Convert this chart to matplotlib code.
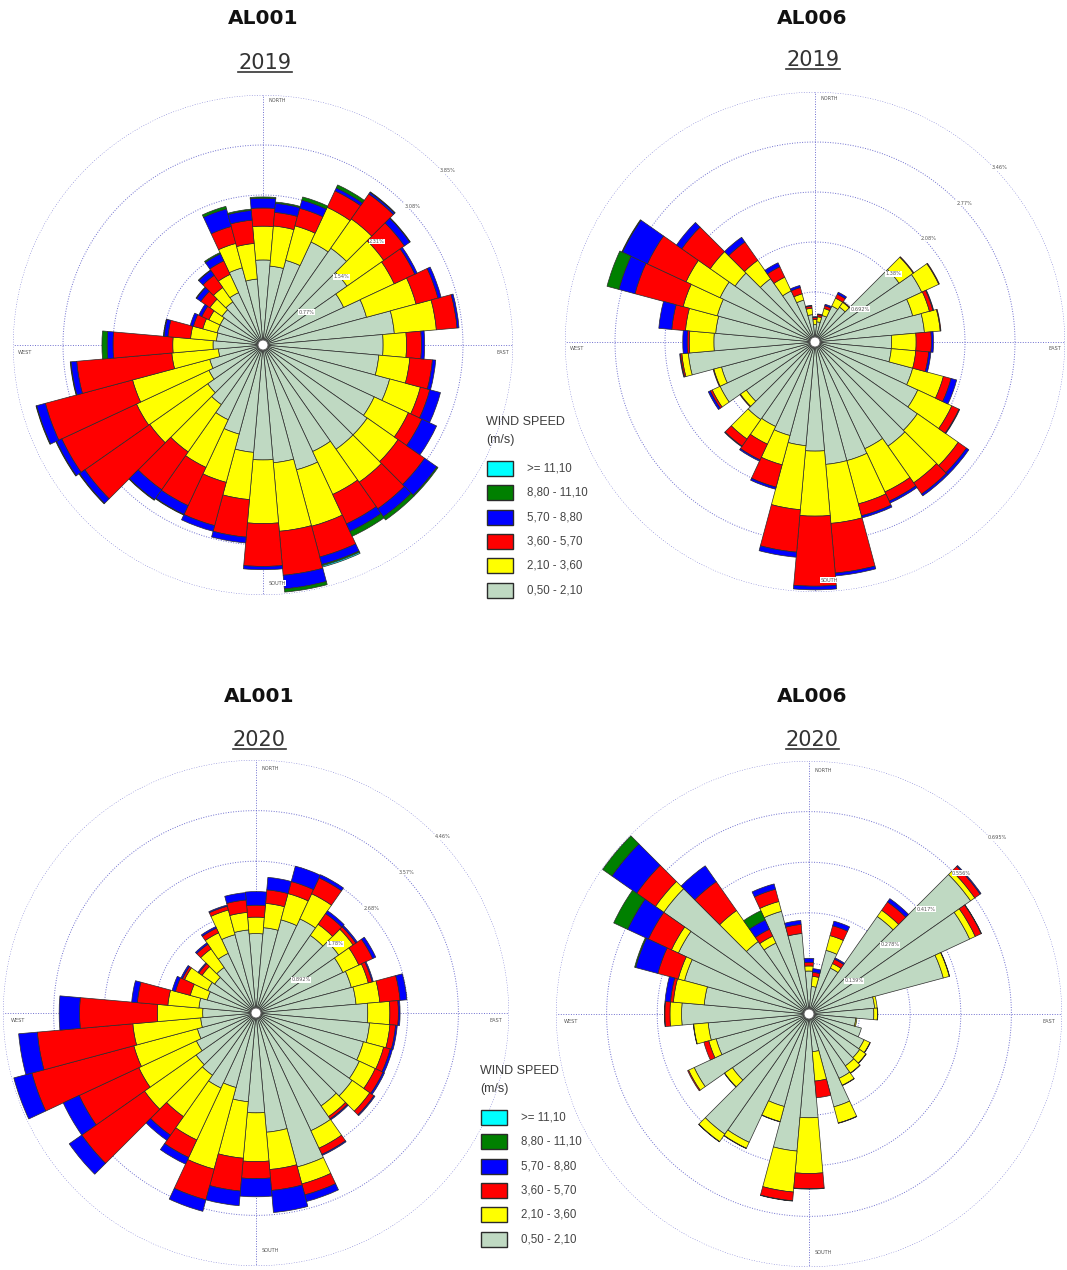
import numpy as np
import matplotlib
matplotlib.use('Agg')
import matplotlib.pyplot as plt
from matplotlib.patches import Circle, Rectangle
from matplotlib.lines import Line2D

W, H = 1067, 1270

directions = np.arange(0, 360, 10)
speed_classes = ['0,50 - 2,10', '2,10 - 3,60', '3,60 - 5,70', '5,70 - 8,80', '8,80 - 11,10', '>= 11,10']
class_colors = ['#bfd9c2', '#ffff00', '#ff0000', '#0000ff', '#008000', '#00ffff']

# AL001 2019 (% of time, per direction, per speed class)
al001_2019_c1 = [1.31, 1.22, 1.35, 1.75, 1.82, 1.58, 1.37, 1.65, 2.03, 1.85, 1.79, 2.02, 1.89, 1.96, 1.96, 1.81, 1.99, 1.82,
                 1.77, 1.66, 1.42, 1.27, 1.12, 1.04, 0.92, 0.85, 0.69, 0.77, 0.72, 0.73, 0.73, 0.77, 0.81, 0.89, 1.23, 1.02]
al001_2019_c2 = [0.52, 0.62, 0.55, 0.59, 0.55, 0.69, 0.86, 0.79, 0.65, 0.36, 0.48, 0.49, 0.58, 0.58, 0.62, 0.73, 0.90, 1.06,
                 0.98, 0.73, 0.77, 0.81, 0.89, 1.09, 1.23, 1.23, 0.72, 0.62, 0.40, 0.23, 0.19, 0.23, 0.27, 0.31, 0.39, 0.55]
al001_2019_c3 = [0.28, 0.21, 0.28, 0.28, 0.47, 0.39, 0.35, 0.35, 0.32, 0.23, 0.35, 0.15, 0.23, 0.50, 0.50, 0.50, 0.49, 0.68,
                 0.66, 0.58, 0.69, 0.65, 0.71, 1.22, 1.27, 1.39, 1.47, 0.92, 0.35, 0.15, 0.12, 0.17, 0.23, 0.23, 0.27, 0.36]
al001_2019_c4 = [0.15, 0.14, 0.13, 0.05, 0.03, 0.10, 0.04, 0.05, 0.03, 0.05, 0.05, 0.17, 0.25, 0.23, 0.15, 0.13, 0.12, 0.21,
                 0.05, 0.09, 0.09, 0.15, 0.19, 0.10, 0.09, 0.14, 0.09, 0.09, 0.06, 0.05, 0.05, 0.08, 0.09, 0.12, 0.28, 0.15]
al001_2019_c5 = [0.02, 0.02, 0.05, 0.05, 0.01, 0.01, 0, 0, 0, 0, 0, 0, 0, 0.02, 0.06, 0.08, 0.02, 0.05,
                 0, 0, 0, 0.01, 0.01, 0.01, 0.01, 0.01, 0.01, 0.08, 0.01, 0, 0, 0.01, 0.01, 0.02, 0.04, 0.02]
al001_2019_c6 = [0, 0, 0, 0, 0, 0, 0, 0, 0, 0, 0, 0, 0, 0, 0, 0, 0.02, 0,
                 0, 0, 0, 0, 0, 0, 0, 0, 0, 0, 0, 0, 0, 0, 0, 0, 0, 0]

# AL006 2019
al006_2019_c1 = [0.24, 0.28, 0.38, 0.55, 0.59, 1.42, 1.63, 1.40, 1.52, 1.06, 1.06, 1.40, 1.57, 1.73, 1.76, 1.63, 1.70, 1.70,
                 1.51, 1.44, 1.34, 1.29, 1.31, 1.16, 1.45, 1.34, 1.76, 1.40, 1.38, 1.40, 1.45, 1.35, 1.07, 0.78, 0.60, 0.38]
al006_2019_c2 = [0.07, 0.07, 0.10, 0.12, 0.08, 0.24, 0.26, 0.24, 0.22, 0.34, 0.34, 0.44, 0.52, 0.69, 0.62, 0.66, 0.62, 0.82,
                 0.90, 0.89, 0.42, 0.27, 0.33, 0.10, 0.12, 0.11, 0.09, 0.34, 0.42, 0.49, 0.52, 0.42, 0.31, 0.21, 0.09, 0.09]
al006_2019_c3 = [0.03, 0.03, 0.04, 0.06, 0.01, 0.01, 0.01, 0.05, 0.01, 0.21, 0.18, 0.11, 0.11, 0.14, 0.19, 0.14, 0.17, 0.69,
                 0.97, 0.59, 0.32, 0.24, 0.12, 0.01, 0.03, 0.01, 0.02, 0.03, 0.19, 0.69, 0.59, 0.48, 0.31, 0.16, 0.09, 0.03]
al006_2019_c4 = [0.01, 0.01, 0.02, 0.03, 0, 0, 0, 0.01, 0, 0.03, 0.03, 0.08, 0.01, 0.04, 0.03, 0.03, 0.03, 0.04,
                 0.05, 0.07, 0.03, 0.02, 0.01, 0, 0.03, 0, 0.01, 0.06, 0.18, 0.23, 0.38, 0.09, 0.08, 0.06, 0.03, 0.01]
al006_2019_c5 = [0, 0, 0, 0, 0, 0, 0, 0, 0, 0, 0, 0, 0, 0, 0, 0, 0, 0,
                 0, 0, 0, 0, 0, 0, 0, 0, 0, 0, 0, 0.17, 0.01, 0, 0, 0, 0, 0]
al006_2019_c6 = [0, 0, 0, 0, 0, 0, 0, 0, 0, 0, 0, 0, 0, 0, 0, 0, 0, 0,
                 0, 0, 0, 0, 0, 0, 0, 0, 0, 0, 0, 0, 0, 0, 0, 0, 0, 0]

# AL001 2020
al001_2020_c1 = [1.40, 1.51, 1.70, 1.83, 1.67, 1.78, 1.69, 1.74, 1.77, 1.97, 2.01, 1.96, 2.01, 2.07, 2.00, 2.29, 2.81, 2.11,
                 1.76, 1.57, 1.36, 1.46, 1.34, 1.29, 1.16, 1.07, 0.98, 0.94, 1.01, 0.89, 0.94, 0.89, 0.98, 1.16, 1.43, 1.47]
al001_2020_c2 = [0.29, 0.43, 0.48, 0.49, 0.24, 0.31, 0.31, 0.31, 0.42, 0.39, 0.36, 0.37, 0.31, 0.38, 0.23, 0.34, 0.31, 0.66,
                 0.86, 1.00, 1.49, 1.01, 0.89, 1.11, 1.12, 1.16, 1.20, 0.80, 0.55, 0.31, 0.45, 0.27, 0.40, 0.40, 0.45, 0.31]
al001_2020_c3 = [0.21, 0.24, 0.22, 0.31, 0.23, 0.06, 0.27, 0.07, 0.36, 0.15, 0.10, 0.12, 0.15, 0.09, 0.05, 0.12, 0.20, 0.37,
                 0.30, 0.58, 0.56, 0.34, 0.40, 1.35, 1.16, 1.86, 1.69, 1.37, 0.54, 0.27, 0.04, 0.07, 0.10, 0.09, 0.07, 0.22]
al001_2020_c4 = [0.24, 0.22, 0.28, 0.06, 0.06, 0.03, 0.06, 0.02, 0.12, 0.03, 0.03, 0.04, 0.03, 0.02, 0.02, 0.02, 0.12, 0.39,
                 0.32, 0.26, 0.21, 0.13, 0.11, 0.27, 0.31, 0.33, 0.33, 0.36, 0.10, 0.06, 0.03, 0.02, 0.03, 0.03, 0.02, 0.13]
al001_2020_c5 = [0, 0, 0, 0, 0, 0, 0, 0, 0, 0, 0, 0, 0, 0, 0, 0, 0, 0,
                 0, 0, 0, 0, 0, 0, 0, 0, 0, 0, 0, 0, 0, 0, 0, 0, 0, 0]
al001_2020_c6 = [0, 0, 0, 0, 0, 0, 0, 0, 0, 0, 0, 0, 0, 0, 0, 0, 0, 0,
                 0, 0, 0, 0, 0, 0, 0, 0, 0, 0, 0, 0, 0, 0, 0, 0, 0, 0]

# AL006 2020
al006_2020_c1 = [0.118, 0.076, 0.181, 0.139, 0.327, 0.542, 0.487, 0.382, 0.181, 0.178, 0.129, 0.149, 0.167, 0.170, 0.174, 0.195, 0.264, 0.104,
                 0.285, 0.378, 0.263, 0.389, 0.403, 0.257, 0.348, 0.264, 0.278, 0.350, 0.289, 0.354, 0.396, 0.487, 0.243, 0.215, 0.292, 0.222]
al006_2020_c2 = [0.014, 0.028, 0.042, 0.014, 0.021, 0.014, 0.017, 0.017, 0.007, 0.010, 0.003, 0.000, 0.018, 0.021, 0.024, 0.021, 0.046, 0.081,
                 0.153, 0.113, 0.043, 0.018, 0.025, 0.026, 0.017, 0.021, 0.040, 0.032, 0.085, 0.018, 0.021, 0.028, 0.104, 0.021, 0.028, 0.000]
al006_2020_c3 = [0.010, 0.011, 0.028, 0.013, 0.028, 0.018, 0.018, 0.001, 0.000, 0.001, 0.000, 0.000, 0.001, 0.001, 0.001, 0.001, 0.001, 0.046,
                 0.042, 0.024, 0.001, 0.001, 0.001, 0.001, 0.003, 0.014, 0.001, 0.014, 0.008, 0.058, 0.070, 0.063, 0.097, 0.021, 0.035, 0.025]
al006_2020_c4 = [0.011, 0.010, 0.013, 0.004, 0.011, 0.003, 0.001, 0, 0, 0, 0, 0, 0, 0, 0, 0, 0, 0,
                 0.001, 0.001, 0, 0, 0, 0, 0, 0, 0, 0.001, 0.015, 0.063, 0.063, 0.083, 0.053, 0.028, 0.015, 0.011]
al006_2020_c5 = [0, 0, 0, 0, 0, 0, 0, 0, 0, 0, 0, 0, 0, 0, 0, 0, 0, 0,
                 0, 0, 0, 0, 0, 0, 0, 0, 0, 0, 0, 0.003, 0.042, 0.031, 0, 0.028, 0, 0]
al006_2020_c6 = [0, 0, 0, 0, 0, 0, 0, 0, 0, 0, 0, 0, 0, 0, 0, 0, 0, 0,
                 0, 0, 0, 0, 0, 0, 0, 0, 0, 0, 0, 0, 0, 0, 0, 0, 0, 0]

ring_step_al001_2019 = 0.77
ring_step_al006_2019 = 0.692
ring_step_al001_2020 = 0.892
ring_step_al006_2020 = 0.139
rings_al001_2019 = ['0.77%', '1.54%', '2.31%', '3.08%', '3.85%']
rings_al006_2019 = ['0.692%', '1.38%', '2.08%', '2.77%', '3.46%']
rings_al001_2020 = ['0.892%', '1.78%', '2.68%', '3.57%', '4.46%']
rings_al006_2020 = ['0.139%', '0.278%', '0.417%', '0.556%', '0.695%']

grid_color = '#6f6fcf'
label_color = '#555555'

fig = plt.figure(figsize=(W / 100, H / 100), dpi=100)
fig.patch.set_facecolor('white')


def rose(cx, cy, R, series, step, ring_text):
    ax = fig.add_axes([(cx - R) / W, 1 - (cy + R) / H, 2 * R / W, 2 * R / H], projection='polar')
    ax.set_theta_zero_location('N')
    ax.set_theta_direction(-1)
    rmax = 5 * step
    ax.set_ylim(0, rmax)
    ax.set_xticks([])
    ax.set_yticks([])
    ax.grid(False)
    ax.spines['polar'].set_visible(False)
    ax.patch.set_alpha(0)

    th = np.linspace(0, 2 * np.pi, 500)
    for k in range(1, 6):
        ax.plot(th, np.full_like(th, k * step), ls=(0, (1, 1.6)), color=grid_color, lw=0.7, zorder=0.5)
    for a in (0, 90, 180, 270):
        ax.plot([np.radians(a)] * 2, [0, rmax], ls=(0, (1, 1.6)), color=grid_color, lw=0.7, zorder=0.5)

    theta = np.radians(directions)
    bottom = np.zeros(len(directions))
    for vals, col in zip(series, class_colors):
        v = np.array(vals, dtype=float)
        m = v > 0
        ax.bar(theta[m], v[m], width=np.radians(10), bottom=bottom[m], color=col,
               edgecolor='#2b2b2b', linewidth=0.5, zorder=2)
        bottom += v

    ax.add_artist(Circle((0.5, 0.5), 5 / (2 * R), transform=ax.transAxes, fc='white',
                         ec='#666666', lw=0.7, zorder=5))

    box = dict(fc='white', ec='none', pad=0.4)
    f = 2 * R
    ax.text(0.5 + 14 / f, 0.5 + 244 / f, 'NORTH', transform=ax.transAxes, fontsize=3.6, color=label_color,
            ha='center', va='center', bbox=box, zorder=6)
    ax.text(0.5 + 14 / f, 0.5 - 238 / f, 'SOUTH', transform=ax.transAxes, fontsize=3.6, color=label_color,
            ha='center', va='center', bbox=box, zorder=6)
    ax.text(0.5 + 240 / f, 0.5 - 7 / f, 'EAST', transform=ax.transAxes, fontsize=3.6, color=label_color,
            ha='center', va='center', bbox=box, zorder=6)
    ax.text(0.5 - 238 / f, 0.5 - 7 / f, 'WEST', transform=ax.transAxes, fontsize=3.6, color=label_color,
            ha='center', va='center', bbox=box, zorder=6)
    for k, txt in enumerate(ring_text, start=1):
        ax.text(np.radians(45), k * step, txt, fontsize=3.6, color=label_color, ha='left', va='top',
                bbox=dict(fc='white', ec='none', pad=0.3), zorder=6)
    return ax


def legend(x, y):
    fig.text(x / W, 1 - y / H, 'WIND SPEED', fontsize=9, color='#3c3c3c', va='center', family='Liberation Sans')
    fig.text(x / W, 1 - (y + 18) / H, '(m/s)', fontsize=9, color='#3c3c3c', va='center', family='Liberation Sans')
    for i, (lab, col) in enumerate(zip(speed_classes[::-1], class_colors[::-1])):
        top = y + 39 + 24.3 * i
        fig.add_artist(Rectangle(((x + 1) / W, 1 - (top + 15) / H), 26 / W, 15 / H, transform=fig.transFigure,
                                 fc=col, ec='#2b2b2b', lw=1))
        fig.text((x + 41) / W, 1 - (top + 7.5) / H, lab, fontsize=8.3, color='#444444', va='center',
                 family='Liberation Sans')


rose(263, 345, 250, [al001_2019_c1, al001_2019_c2, al001_2019_c3, al001_2019_c4, al001_2019_c5, al001_2019_c6],
     ring_step_al001_2019, rings_al001_2019)
rose(815, 342, 250, [al006_2019_c1, al006_2019_c2, al006_2019_c3, al006_2019_c4, al006_2019_c5, al006_2019_c6],
     ring_step_al006_2019, rings_al006_2019)
rose(256, 1013, 253, [al001_2020_c1, al001_2020_c2, al001_2020_c3, al001_2020_c4, al001_2020_c5, al001_2020_c6],
     ring_step_al001_2020, rings_al001_2020)
rose(809, 1014, 253, [al006_2020_c1, al006_2020_c2, al006_2020_c3, al006_2020_c4, al006_2020_c5, al006_2020_c6],
     ring_step_al006_2020, rings_al006_2020)

legend(486, 422)
legend(480, 1071)

titles = [(263, 18, 'AL001'), (812, 18, 'AL006'), (259, 697, 'AL001'), (812, 697, 'AL006')]
for x, y, t in titles:
    fig.text(x / W, 1 - y / H, t, fontsize=14.5, fontweight='bold', ha='center', va='center',
             family='DejaVu Sans', color='#111111')

years = [(265, 63, '2019'), (813, 60, '2019'), (259, 740, '2020'), (812, 740, '2020')]
year_texts = []
for x, y, t in years:
    year_texts.append(fig.text(x / W, 1 - y / H, t, fontsize=15, ha='center', va='center',
                               family='DejaVu Sans', color='#333333'))

fig.canvas.draw()
renderer = fig.canvas.get_renderer()
for t in year_texts:
    bb = t.get_window_extent(renderer)
    yline = (bb.y0 + 1) / H
    fig.add_artist(Line2D([bb.x0 / W, bb.x1 / W], [yline, yline], transform=fig.transFigure,
                          color='#333333', lw=1.2))

fig.savefig('out.png', dpi=100)
